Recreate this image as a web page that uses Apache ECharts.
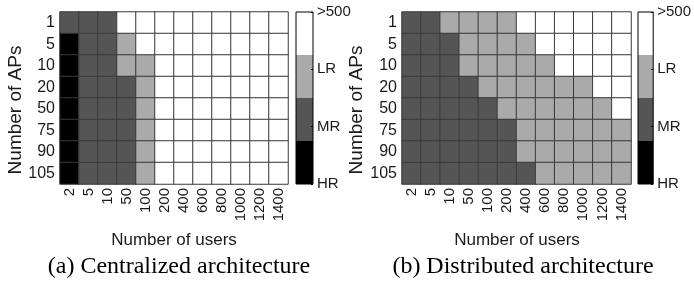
<!DOCTYPE html>
<html>
<head>
<meta charset="utf-8">
<script src="https://cdn.jsdelivr.net/npm/echarts@6/dist/echarts.min.js"></script>
<style>
html, body { margin: 0; padding: 0; background: #fff; }
#chart { width: 694px; height: 288px; }
</style>
</head>
<body>
<div id="chart"></div>
<script>
// categories
var users = ["2", "5", "10", "50", "100", "200", "400", "600", "800", "1000", "1200", "1400"];
var aps = ["1", "5", "10", "20", "50", "75", "90", "105"];

// levels: 0 = HR, 1 = MR, 2 = LR, 3 = >500
var levelLabels = ["HR", "MR", "LR", ">500"];
var levelColors = ["#000000", "#555555", "#aaaaaa", "#ffffff"];
var bandSizes = [0.75, 0.75, 0.75, 0.75];

// rows = APs (1 -> 105), cols = users (2 -> 1400)
var centralized = [
  [1, 1, 1, 3, 3, 3, 3, 3, 3, 3, 3, 3],
  [0, 1, 1, 2, 3, 3, 3, 3, 3, 3, 3, 3],
  [0, 1, 1, 2, 2, 3, 3, 3, 3, 3, 3, 3],
  [0, 1, 1, 1, 2, 3, 3, 3, 3, 3, 3, 3],
  [0, 1, 1, 1, 2, 3, 3, 3, 3, 3, 3, 3],
  [0, 1, 1, 1, 2, 3, 3, 3, 3, 3, 3, 3],
  [0, 1, 1, 1, 2, 3, 3, 3, 3, 3, 3, 3],
  [0, 1, 1, 1, 2, 3, 3, 3, 3, 3, 3, 3]
];
var distributed = [
  [1, 1, 2, 2, 2, 2, 3, 3, 3, 3, 3, 3],
  [1, 1, 1, 2, 2, 2, 2, 3, 3, 3, 3, 3],
  [1, 1, 1, 2, 2, 2, 2, 2, 3, 3, 3, 3],
  [1, 1, 1, 1, 2, 2, 2, 2, 2, 2, 3, 3],
  [1, 1, 1, 1, 1, 2, 2, 2, 2, 2, 2, 3],
  [1, 1, 1, 1, 1, 1, 2, 2, 2, 2, 2, 2],
  [1, 1, 1, 1, 1, 1, 2, 2, 2, 2, 2, 2],
  [1, 1, 1, 1, 1, 1, 1, 2, 2, 2, 2, 2]
];

var FONT = "'Liberation Sans', Arial, sans-serif";
var SERIF = "'Liberation Serif', 'Times New Roman', serif";
var TXT = "#1a1a1a";

function toCells(mat) {
  var out = [];
  for (var r = 0; r < mat.length; r++) {
    for (var c = 0; c < mat[r].length; c++) {
      out.push([c, r, mat[r][c]]);
    }
  }
  return out;
}

var chart = echarts.init(document.getElementById("chart"));

var grids = [
  { left: 60, top: 12, width: 228, height: 172 },
  { left: 402, top: 12, width: 229, height: 172 },
  // colorbars
  { left: 296, top: 12, width: 17, height: 172, show: true, z: 5, borderColor: "#000", borderWidth: 1, backgroundColor: "transparent" },
  { left: 638, top: 12, width: 17, height: 172, show: true, z: 5, borderColor: "#000", borderWidth: 1, backgroundColor: "transparent" }
];

var xAxes = [], yAxes = [], series = [];
[0, 1].forEach(function (i) {
  xAxes.push({
    type: "category", gridIndex: i, data: users,
    axisLine: { show: false }, axisTick: { show: false }, splitLine: { show: false },
    axisLabel: { rotate: 90, fontSize: 15, color: TXT, fontFamily: FONT, margin: 4, interval: 0 }
  });
  yAxes.push({
    type: "category", gridIndex: i, data: aps, inverse: true,
    axisLine: { show: false }, axisTick: { show: false }, splitLine: { show: false },
    axisLabel: { fontSize: 16, color: TXT, fontFamily: FONT, margin: 5 }
  });
});
[2, 3].forEach(function (i) {
  xAxes.push({
    type: "category", gridIndex: i, data: [""],
    axisLine: { show: false }, axisTick: { show: false }, axisLabel: { show: false }
  });
  yAxes.push({
    type: "value", gridIndex: i, position: "right", min: 0, max: 3, interval: 1, z: 6,
    splitLine: { show: false }, axisLine: { show: false },
    axisTick: { show: true, inside: true, length: 2, lineStyle: { color: "#000" } },
    axisLabel: {
      fontSize: 15, color: TXT, fontFamily: FONT, margin: 4,
      formatter: function (v) { return levelLabels[v]; }
    }
  });
});

series.push({
  type: "heatmap", xAxisIndex: 0, yAxisIndex: 0, data: toCells(centralized),
  itemStyle: { borderColor: "#3a3a3a", borderWidth: 1 }, emphasis: { disabled: true }
});
series.push({
  type: "heatmap", xAxisIndex: 1, yAxisIndex: 1, data: toCells(distributed),
  itemStyle: { borderColor: "#3a3a3a", borderWidth: 1 }, emphasis: { disabled: true }
});
[2, 3].forEach(function (i) {
  bandSizes.forEach(function (s, k) {
    series.push({
      type: "bar", xAxisIndex: i, yAxisIndex: i, stack: "cb" + i,
      data: [s], barWidth: "100%", silent: true,
      itemStyle: { color: levelColors[k] }
    });
  });
});

var option = {
  animation: false,
  backgroundColor: "#fff",
  grid: grids,
  xAxis: xAxes,
  yAxis: yAxes,
  visualMap: {
    show: false, type: "piecewise", seriesIndex: [0, 1], dimension: 2,
    pieces: levelColors.map(function (c, k) { return { value: k, color: c }; })
  },
  series: series,
  graphic: [
    { type: "text", x: 16, y: 110, rotation: Math.PI / 2, style: { text: "Number of APs", font: "19px " + FONT, fill: TXT, textAlign: "center", textVerticalAlign: "middle" } },
    { type: "text", x: 357, y: 110, rotation: Math.PI / 2, style: { text: "Number of APs", font: "19px " + FONT, fill: TXT, textAlign: "center", textVerticalAlign: "middle" } },
    { type: "text", x: 174, y: 240, style: { text: "Number of users", font: "17px " + FONT, fill: TXT, textAlign: "center", textVerticalAlign: "middle" } },
    { type: "text", x: 517, y: 240, style: { text: "Number of users", font: "17px " + FONT, fill: TXT, textAlign: "center", textVerticalAlign: "middle" } },
    { type: "text", x: 179, y: 267, style: { text: "(a) Centralized architecture", font: "24px " + SERIF, fill: "#000", textAlign: "center", textVerticalAlign: "middle" } },
    { type: "text", x: 523, y: 267, style: { text: "(b) Distributed architecture", font: "24px " + SERIF, fill: "#000", textAlign: "center", textVerticalAlign: "middle" } }
  ]
};
chart.setOption(option);
</script>
</body>
</html>
